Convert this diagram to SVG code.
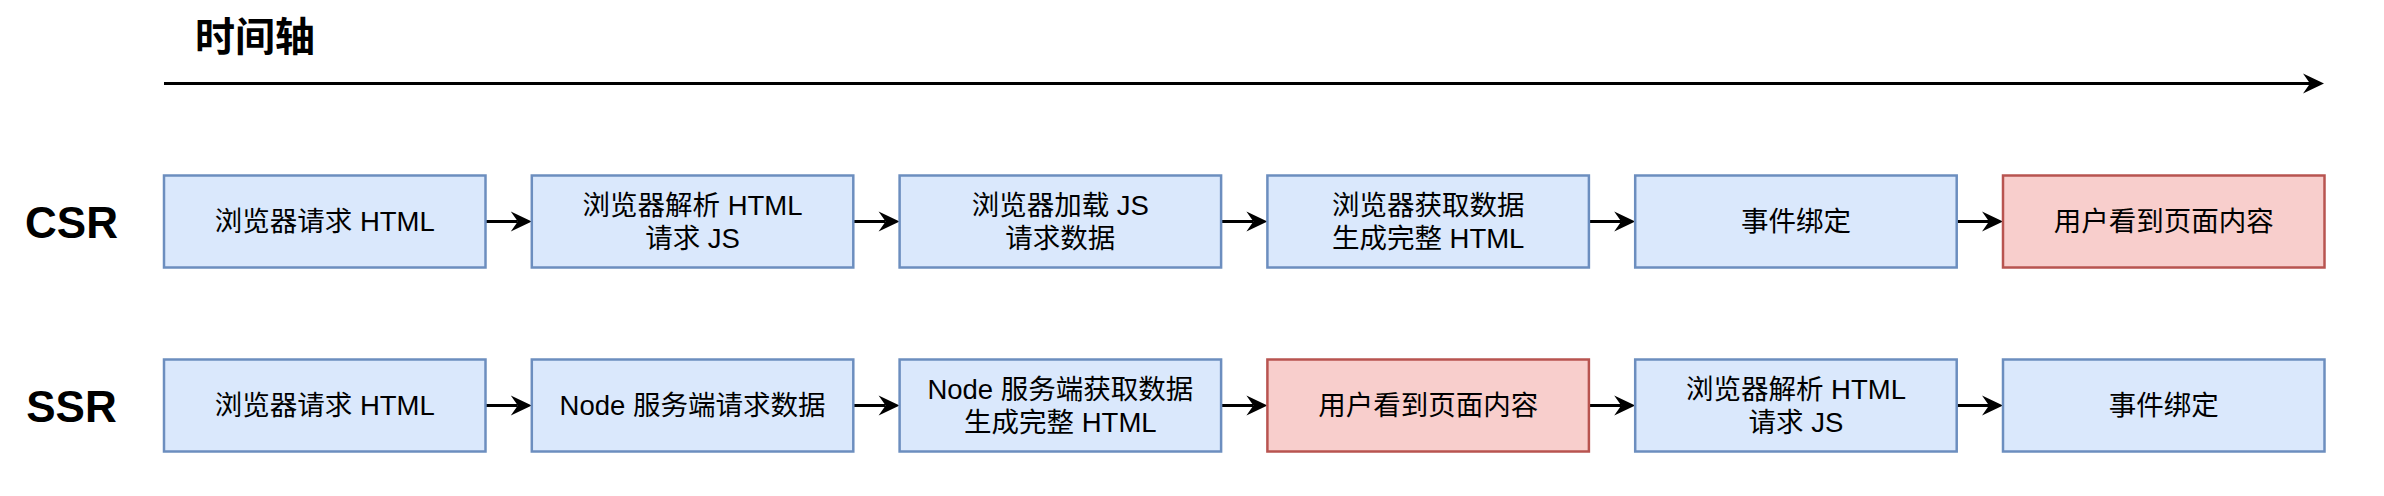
<svg xmlns="http://www.w3.org/2000/svg" width="2384" height="496" viewBox="0 0 2384 496">
<style>
.bg{fill:#ffffff}
.b{fill:#dae8fc;stroke:#6c8ebf;stroke-width:2.5}
.r{fill:#f8cecc;stroke:#b85450;stroke-width:2.5}
.t{font-family:"Liberation Sans","Noto Sans CJK SC",sans-serif;font-size:27.5px;fill:#000;text-anchor:middle}
.lbl{font-family:"Liberation Sans","Noto Sans CJK SC",sans-serif;font-size:44px;font-weight:bold;fill:#000;text-anchor:middle}
.title{font-family:"Noto Sans CJK SC",sans-serif;font-size:40px;font-weight:bold;fill:#000}
.c{stroke:#000;stroke-width:3;fill:none;marker-end:url(#arr)}
</style>
<defs>
<marker id="arr" markerUnits="userSpaceOnUse" markerWidth="24" markerHeight="24" refX="8" refY="11" orient="auto">
<path d="M1,1 L22,11 L1,21 L8,11 Z" fill="#000"/>
</marker>
</defs>
<rect class="bg" x="0" y="0" width="2384" height="496"/>
<g id="title"><text class="title" x="195" y="51">时间轴</text></g>
<g id="label-csr"><text class="lbl" x="71.5" y="238">CSR</text></g>
<g id="label-ssr"><text class="lbl" x="71.5" y="422">SSR</text></g>

<g id="connectors">
<line class="c" x1="164" y1="83.5" x2="2310" y2="83.5"/>
<line class="c" x1="485.5" y1="221.5" x2="517.8" y2="221.5"/>
<line class="c" x1="853.3" y1="221.5" x2="885.6" y2="221.5"/>
<line class="c" x1="1221.1" y1="221.5" x2="1253.4" y2="221.5"/>
<line class="c" x1="1588.9" y1="221.5" x2="1621.2" y2="221.5"/>
<line class="c" x1="1956.7" y1="221.5" x2="1989" y2="221.5"/>
<line class="c" x1="485.5" y1="405.5" x2="517.8" y2="405.5"/>
<line class="c" x1="853.3" y1="405.5" x2="885.6" y2="405.5"/>
<line class="c" x1="1221.1" y1="405.5" x2="1253.4" y2="405.5"/>
<line class="c" x1="1588.9" y1="405.5" x2="1621.2" y2="405.5"/>
<line class="c" x1="1956.7" y1="405.5" x2="1989" y2="405.5"/>
</g>

<g id="csr1"><rect class="b" x="164" y="175.5" width="321.5" height="92"/><text class="t" x="324.75" y="231">浏览器请求 HTML</text></g>
<g id="csr2"><rect class="b" x="531.8" y="175.5" width="321.5" height="92"/><text class="t" x="692.55" y="214.5">浏览器解析 HTML</text><text class="t" x="692.55" y="248">请求 JS</text></g>
<g id="csr3"><rect class="b" x="899.6" y="175.5" width="321.5" height="92"/><text class="t" x="1060.35" y="214.5">浏览器加载 JS</text><text class="t" x="1060.35" y="248">请求数据</text></g>
<g id="csr4"><rect class="b" x="1267.4" y="175.5" width="321.5" height="92"/><text class="t" x="1428.15" y="214.5">浏览器获取数据</text><text class="t" x="1428.15" y="248">生成完整 HTML</text></g>
<g id="csr5"><rect class="b" x="1635.2" y="175.5" width="321.5" height="92"/><text class="t" x="1795.95" y="231">事件绑定</text></g>
<g id="csr6"><rect class="r" x="2003" y="175.5" width="321.5" height="92"/><text class="t" x="2163.75" y="231">用户看到页面内容</text></g>

<g id="ssr1"><rect class="b" x="164" y="359.5" width="321.5" height="92"/><text class="t" x="324.75" y="415">浏览器请求 HTML</text></g>
<g id="ssr2"><rect class="b" x="531.8" y="359.5" width="321.5" height="92"/><text class="t" x="692.55" y="415">Node 服务端请求数据</text></g>
<g id="ssr3"><rect class="b" x="899.6" y="359.5" width="321.5" height="92"/><text class="t" x="1060.35" y="398.5">Node 服务端获取数据</text><text class="t" x="1060.35" y="432">生成完整 HTML</text></g>
<g id="ssr4"><rect class="r" x="1267.4" y="359.5" width="321.5" height="92"/><text class="t" x="1428.15" y="415">用户看到页面内容</text></g>
<g id="ssr5"><rect class="b" x="1635.2" y="359.5" width="321.5" height="92"/><text class="t" x="1795.95" y="398.5">浏览器解析 HTML</text><text class="t" x="1795.95" y="432">请求 JS</text></g>
<g id="ssr6"><rect class="b" x="2003" y="359.5" width="321.5" height="92"/><text class="t" x="2163.75" y="415">事件绑定</text></g>
</svg>
